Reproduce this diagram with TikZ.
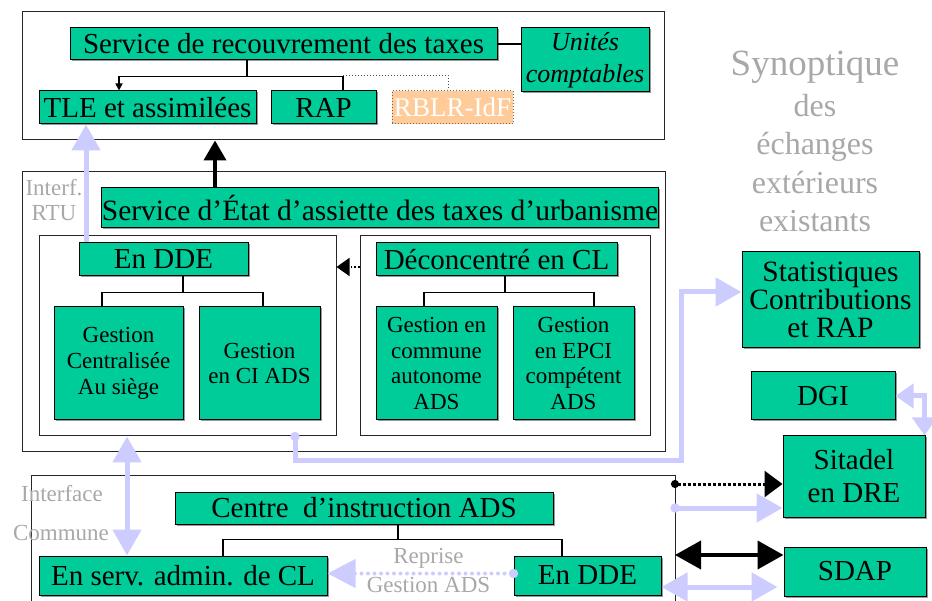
\documentclass[tikz,border=0pt]{standalone}
\usepackage{fontspec}
\setmainfont{Liberation Serif}
\usetikzlibrary{arrows.meta,shadows}
\definecolor{grn}{RGB}{0,204,153}
\definecolor{lav}{RGB}{204,204,255}
\definecolor{gtxt}{RGB}{168,168,168}
\definecolor{org}{RGB}{255,204,153}
\begin{document}
\begin{tikzpicture}[x=1pt,y=-1pt,
  box/.style={draw=black, line width=1pt, fill=grn, inner sep=0pt, align=center,
    drop shadow={shadow xshift=1.5pt,shadow yshift=-1.5pt,fill=black!40,opacity=1}},
  frame/.style={draw=black!85, line width=1pt, inner sep=0pt},
  big/.style={font=\fontsize{29}{31}\selectfont},
  small/.style={font=\fontsize{23}{25.7}\selectfont},
  greytext/.style={text=gtxt, inner sep=0pt, align=center, font=\fontsize{23}{25}\selectfont},
  tree/.style={draw=black, line width=1.6pt},
  lavline/.style={draw=lav, line width=5pt},
  lavhead/.style={lavline, -{Triangle[width=28pt,length=26pt]}},
  lavdbl/.style={lavline, {Triangle[width=28pt,length=26pt]}-{Triangle[width=28pt,length=26pt]}},
  lavcirc/.style={lavline, shorten <=-4.5pt, {Circle[length=9pt]}-{Triangle[width=28pt,length=26pt]}},
]
\useasboundingbox (0,0) rectangle (932,601);

% frames
\node[frame, minimum width=642pt, minimum height=128pt] (f1) at (343,76) {};
\node[frame, minimum width=643pt, minimum height=280pt] (f2) at (343.5,312) {};
\node[frame, minimum width=297pt, minimum height=200pt] (fL) at (187.5,336) {};
\node[frame, minimum width=290pt, minimum height=200pt] (fR) at (505,336) {};
\coordinate (f3l) at (31,475);
\coordinate (f3r) at (675,475);
\draw[frame] (f3l |- 0,601) -- (f3l) -- (f3r) -- (f3r |- 0,601);

% top block
\node[box, big, minimum width=427pt, minimum height=32pt] (srt) at (283.5,44) {Service de recouvrement des taxes};
\node[box, font=\fontsize{26}{32}\itshape\selectfont, minimum width=128pt, minimum height=64pt] (uc) at (585,60) {Unités\\comptables};
\node[box, big, minimum width=217pt, minimum height=33pt] (tle) at (147.5,107.5) {TLE et assimilées};
\node[box, big, minimum width=105pt, minimum height=33pt] (rap) at (323.5,107.5) {RAP};
\node[draw=black!60, dotted, line width=1pt, fill=org, text=white, font=\fontsize{27}{29}\selectfont, inner sep=0pt,
      minimum width=121pt, minimum height=33pt] (rblr) at (452.5,107.5) {RBLR-IdF};

\draw[tree] (srt.east) -- (srt.east -| uc.west);
\draw[tree, -{Triangle[width=7pt,length=7pt]}] ([xshift=-36.5pt]srt.south) -- ++(0,16) -| ([xshift=-28.5pt]tle.north);
\draw[tree] ([xshift=-36.5pt]srt.south) -- ++(0,16) -| ([xshift=19.5pt]rap.north);
\draw[black!70, line width=1pt, dotted] ([xshift=19.5pt]rap.north) ++(0,-15) -| ([xshift=-4.5pt]rblr.north);

% middle block
\node[box, font=\fontsize{29.5}{31}\selectfont, minimum width=554pt, minimum height=40pt] (sea) at (380,208) {Service d’État d’assiette des taxes d’urbanisme};
\node[greytext] (rtu) at (54,200) {Interf.\\RTU};
\node[box, big, minimum width=169pt, minimum height=33pt] (ddeM) at (163.5,259.5) {En DDE};
\node[box, big, minimum width=241pt, minimum height=33pt] (dcl) at (496.5,259.5) {Déconcentré en CL};
\node[box, small, minimum width=129pt, minimum height=113pt] (gc) at (118.5,363.5) {Gestion\\Centralisée\\Au siège};
\node[box, small, minimum width=121pt, minimum height=113pt] (gci) at (259.5,363.5) {Gestion\\en CI ADS};
\node[box, small, minimum width=121pt, minimum height=113pt] (gca) at (436.5,363.5) {Gestion en\\commune\\autonome\\ADS};
\node[box, small, minimum width=121pt, minimum height=113pt] (gep) at (573.5,363.5) {Gestion\\en EPCI\\compétent\\ADS};

\draw[tree] ([xshift=19.5pt]ddeM.south) -- ++(0,16) -| ([xshift=-16.5pt]gc.north);
\draw[tree] ([xshift=19.5pt]ddeM.south) -- ++(0,16) -| ([xshift=3.5pt]gci.north);
\draw[tree] ([xshift=8.5pt]dcl.south) -- ++(0,16) -| ([xshift=-12.5pt]gca.north);
\draw[tree] ([xshift=8.5pt]dcl.south) -- ++(0,16) -| ([xshift=20.5pt]gep.north);

\draw[black, line width=1.6pt, dotted, -{Triangle[width=18pt,length=13pt]}] ([yshift=-7.5pt]fR.west |- dcl.center) -- ([yshift=-7.5pt]fL.east |- dcl.center);

% arrows to the top block
\draw[black, line width=4pt, -{Triangle[width=22pt,length=20pt]}] ([xshift=-165pt]sea.north) -- ([xshift=-165pt]sea.north |- f1.south);
\draw[lavhead] ([xshift=-61.5pt]tle.south |- ddeM.north) -- ([xshift=-61.5pt]tle.south);

% right side
\node[greytext, font=\fontsize{37}{38}\selectfont] (syn) at (815,67) {Synoptique};
\node[greytext, font=\fontsize{32}{38.3}\selectfont, anchor=north] (syn2) at (815,94) {des\\échanges\\extérieurs\\existants};
\node[box, font=\fontsize{29.5}{28}\selectfont, minimum width=177pt, minimum height=96pt] (stat) at (830.5,300) {Statistiques\\Contributions\\et RAP};
\node[box, big, minimum width=144pt, minimum height=48pt] (dgi) at (823,396) {DGI};
\node[box, font=\fontsize{29}{33}\selectfont, minimum width=142pt, minimum height=81pt] (sit) at (854,476.5) {Sitadel\\en DRE};
\node[box, big, minimum width=142pt, minimum height=49pt] (sdap) at (855,571.5) {SDAP};

\draw[lavline, {Triangle[width=24pt,length=18pt]}-{Triangle[width=24pt,length=18pt]}] (dgi.east) -| ([xshift=-1pt]sit.north east);
\draw[lavcirc] ([xshift=107.5pt]fL.south) -- ++(0,24) -- ++(386,0) |- ([yshift=8pt]stat.west);

% bottom block
\node[greytext] (itf) at (62,494) {Interface};
\node[greytext] (com) at (61,533) {Commune};
\node[box, big, minimum width=378pt, minimum height=32pt] (cia) at (364,508) {Centre\ \ d’instruction ADS};
\node[box, big, minimum width=288pt, minimum height=39pt] (esa) at (183,575.5) {En serv. admin. de CL};
\node[box, big, minimum width=147pt, minimum height=39pt] (ddeB) at (587.5,575.5) {En DDE};

\draw[tree] ([xshift=34pt]cia.south) -- ++(0,15) -| ([xshift=40pt]esa.north);
\draw[tree] ([xshift=34pt]cia.south) -- ++(0,15) -| ([xshift=-25.5pt]ddeB.north);

\draw[lavdbl] ([xshift=-60.5pt]fL.south) -- ([xshift=-60.5pt]fL.south |- esa.north);

\draw[draw=lav, line width=4pt, dash pattern=on 0pt off 6.5pt, line cap=round, shorten <=-4.5pt,
      {Circle[length=9pt]}-{Triangle[width=28pt,length=28pt]}] ([yshift=2pt]ddeB.west) -- ([yshift=2pt]esa.east)
      node[pos=0.5, greytext, anchor=south, xshift=8pt, yshift=3pt] {Reprise}
      node[pos=0.5, greytext, anchor=north, xshift=8pt, yshift=-2pt] {Gestion ADS};

\draw[black, line width=3pt, dotted, shorten <=-4pt, {Circle[length=8pt]}-{Triangle[width=26pt,length=18pt]}]
      ([yshift=-7.5pt]sit.west -| f3r) -- ([yshift=-7.5pt]sit.west);
\draw[lavcirc] ([yshift=-31.5pt]sit.west -| f3r) -- ([yshift=-31.5pt]sit.west);
\draw[black, line width=4pt, {Triangle[width=28pt,length=26pt]}-{Triangle[width=28pt,length=26pt]}]
      ([yshift=16.5pt]sdap.west -| f3r) -- ([yshift=16.5pt]sdap.west);
\draw[lavdbl] ([yshift=-11.5pt]ddeB.east) -- ([yshift=-15.5pt,xshift=-6pt]sdap.west);
\end{tikzpicture}
\end{document}
